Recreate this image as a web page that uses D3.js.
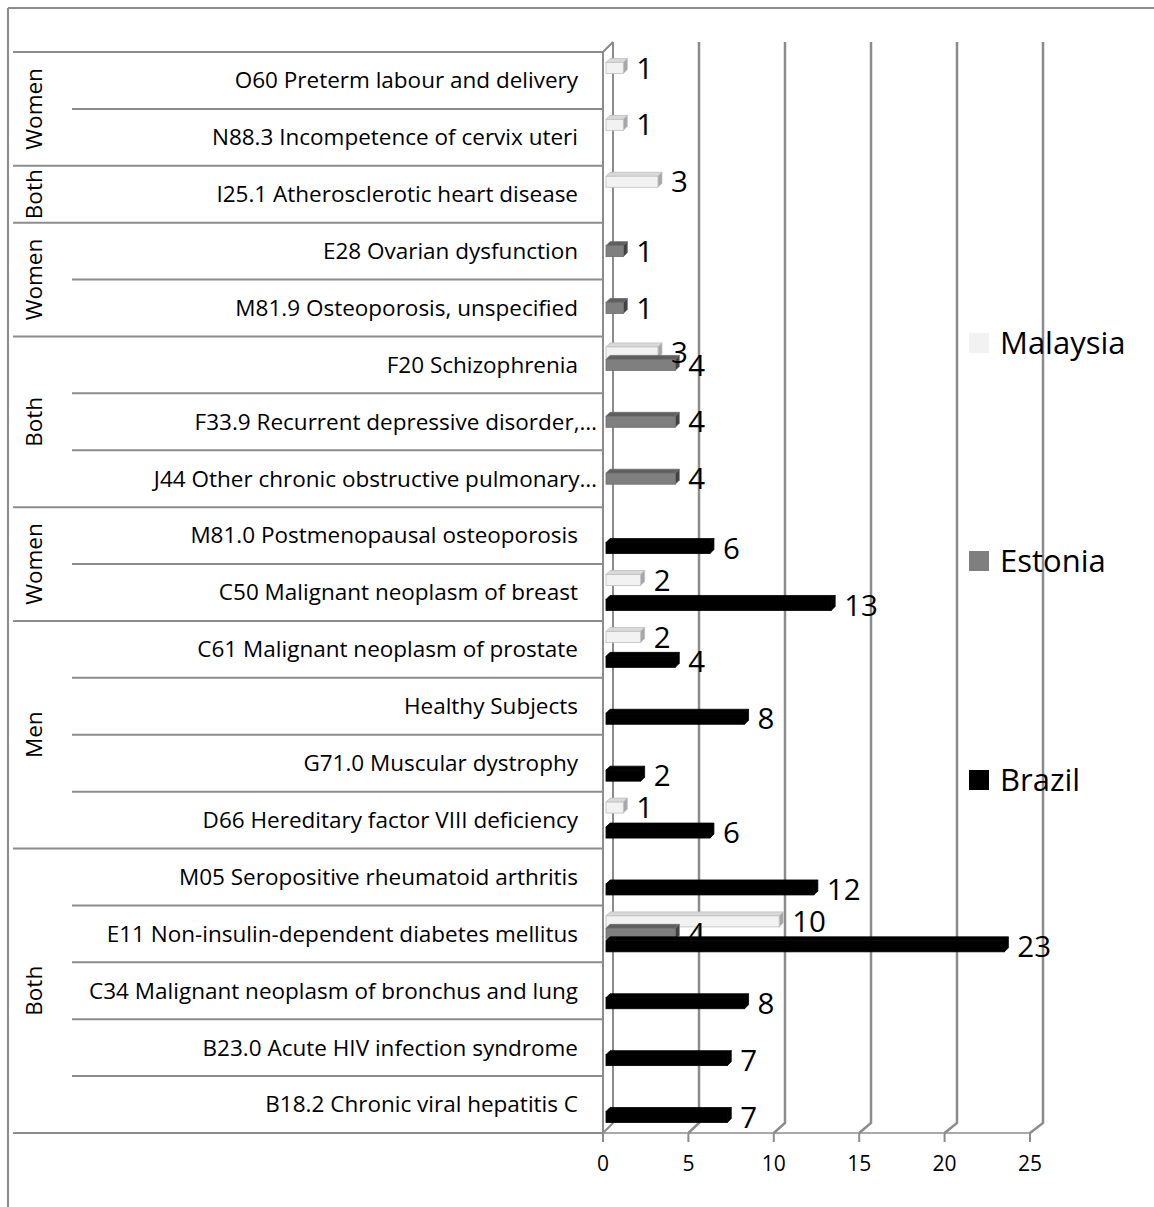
<!DOCTYPE html>
<html>
<head>
<meta charset="utf-8">
<script src="https://cdn.jsdelivr.net/npm/d3@7/dist/d3.min.js"></script>
<style>
  body { margin: 0; background: #fff; }
  svg { display: block; font-family: "Open Sans", sans-serif; }
</style>
</head>
<body>
<div id="chart"></div>
<script>
// categories, top to bottom
var categories = [
    'O60 Preterm labour and delivery',
    'N88.3 Incompetence of cervix uteri',
    'I25.1 Atherosclerotic heart disease',
    'E28 Ovarian dysfunction',
    'M81.9 Osteoporosis, unspecified',
    'F20 Schizophrenia',
    'F33.9 Recurrent depressive disorder,…',
    'J44 Other chronic obstructive pulmonary…',
    'M81.0 Postmenopausal osteoporosis',
    'C50 Malignant neoplasm of breast',
    'C61 Malignant neoplasm of prostate',
    'Healthy Subjects',
    'G71.0 Muscular dystrophy',
    'D66 Hereditary factor VIII deficiency',
    'M05 Seropositive rheumatoid arthritis',
    'E11 Non-insulin-dependent diabetes mellitus',
    'C34 Malignant neoplasm of bronchus and lung',
    'B23.0 Acute HIV infection syndrome',
    'B18.2 Chronic viral hepatitis C'
];

var groupNames = ['Women', 'Both', 'Women', 'Both', 'Women', 'Men', 'Both'];
var groupSizes = [2, 1, 2, 3, 2, 4, 5];

var seriesNames = ['Malaysia', 'Estonia', 'Brazil'];
var malaysia = [1, 1, 3, null, null, 3, null, null, null, 2, 2, null, null, 1, null, 10, null, null, null];
var estonia  = [null, null, null, 1, 1, 4, 4, 4, null, null, null, null, null, null, null, 4, null, null, null];
var brazil   = [null, null, null, null, null, null, null, null, 6, 13, 4, 8, 2, 6, 12, 23, 8, 7, 7];

var xTicks = [0, 5, 10, 15, 20, 25];

var seriesValues = [malaysia, estonia, brazil];
var seriesFill = ['#f2f2f2', '#7f7f7f', '#000000'];
var seriesTop = ['#d9d9d9', '#5f5f5f', '#000000'];
var seriesSide = ['#a6a6a6', '#404040', '#000000'];
var seriesStroke = ['#bfbfbf', '#6f6f6f', '#000000'];

var width = 1154;
var height = 1207;
var gray = '#8c8c8c';
var depthX = 10, depthY = -10;
var barDepth = 4;
var faceH = 11;

var svg = d3.select('#chart')
    .append('svg')
    .attr('width', width)
    .attr('height', height);

// chart border (top and left visible)
svg.append('line').attr('x1', 8).attr('y1', 8).attr('x2', width).attr('y2', 8)
    .attr('stroke', gray).attr('stroke-width', 2);
svg.append('line').attr('x1', 8).attr('y1', 8).attr('x2', 8).attr('y2', height)
    .attr('stroke', gray).attr('stroke-width', 2);

var y = d3.scaleBand()
    .domain(categories)
    .range([52, 1133]);

var ySeries = d3.scaleBand()
    .domain(seriesNames)
    .range([0, y.bandwidth()])
    .paddingOuter(0.78);

var xFront = d3.scaleLinear().domain([0, 25]).range([603, 1030]);
var xBack = d3.scaleLinear().domain([0, 25]).range([613, 1043]);
var x = d3.scaleLinear().domain([0, 25]).range([606, 1039]);

var plotTop = y.range()[0];
var plotBottom = y.range()[1];

// back gridlines + floor diagonals
var grid = svg.append('g').attr('stroke', gray).attr('fill', 'none');
grid.selectAll('.gl')
    .data(xTicks)
    .enter()
    .append('path')
    .attr('stroke-width', function (d) { return d === 0 ? 2 : 2.5; })
    .attr('d', function (d) {
        return 'M' + xBack(d) + ',' + (plotTop + depthY) +
            'L' + xBack(d) + ',' + (plotBottom + depthY) +
            'L' + xFront(d) + ',' + plotBottom;
    });

// left wall front edge + top diagonal
grid.append('path')
    .attr('stroke-width', 2)
    .attr('d', 'M' + xFront(0) + ',' + plotBottom + 'L' + xFront(0) + ',' + plotTop +
        'L' + xBack(0) + ',' + (plotTop + depthY));

// floor front edge
grid.append('line')
    .attr('x1', xFront(0)).attr('x2', xFront(25))
    .attr('y1', plotBottom).attr('y2', plotBottom)
    .attr('stroke-width', 1.5);

// tick marks and tick labels
svg.append('g').selectAll('line')
    .data(xTicks)
    .enter()
    .append('line')
    .attr('x1', function (d) { return xFront(d); })
    .attr('x2', function (d) { return xFront(d); })
    .attr('y1', plotBottom)
    .attr('y2', plotBottom + 9)
    .attr('stroke', gray)
    .attr('stroke-width', 2);

svg.append('g').selectAll('text')
    .data(xTicks)
    .enter()
    .append('text')
    .attr('x', function (d) { return xFront(d); })
    .attr('y', plotBottom + 38)
    .attr('text-anchor', 'middle')
    .style('font-size', '21px')
    .style('fill', '#000')
    .text(function (d) { return d; });

// category separators
var catLines = svg.append('g').attr('stroke', gray).attr('stroke-width', 2);
var groupStarts = [];
var acc = 0;
groupSizes.forEach(function (n) { groupStarts.push(acc); acc += n; });
groupStarts.push(categories.length);

for (var i = 0; i <= categories.length; i++) {
    var isGroup = groupStarts.indexOf(i) >= 0;
    var yy = i < categories.length ? y(categories[i]) : plotBottom;
    catLines.append('line')
        .attr('x1', isGroup ? 13 : 72)
        .attr('x2', xFront(0))
        .attr('y1', yy)
        .attr('y2', yy);
}

// category labels
svg.append('g').selectAll('text')
    .data(categories)
    .enter()
    .append('text')
    .attr('x', function (d) { return d.indexOf('…') >= 0 ? 597 : 578; })
    .attr('y', function (d) { return y(d) + y.bandwidth() / 2; })
    .attr('dy', '0.35em')
    .attr('text-anchor', 'end')
    .style('font-size', '22.5px')
    .style('fill', '#000')
    .text(function (d) { return d; });

// group labels
svg.append('g').selectAll('text')
    .data(groupNames)
    .enter()
    .append('text')
    .attr('transform', function (d, i) {
        var y0 = y(categories[groupStarts[i]]);
        var y1 = groupStarts[i + 1] < categories.length ? y(categories[groupStarts[i + 1]]) : plotBottom;
        return 'translate(' + 34 + ',' + ((y0 + y1) / 2) + ') rotate(-90)';
    })
    .attr('dy', '0.35em')
    .attr('text-anchor', 'middle')
    .style('font-size', '22.5px')
    .style('fill', '#000')
    .text(function (d) { return d; });

// 3D bars
function barShapes(g, si) {
    var vals = seriesValues[si];
    var data = categories.map(function (c, i) { return {cat: c, value: vals[i]}; })
        .filter(function (d) { return d.value != null; });

    var bars = g.selectAll('.bar-' + si)
        .data(data)
        .enter()
        .append('g')
        .attr('class', 'bar-' + si);

    function yc(d) { return y(d.cat) + ySeries(seriesNames[si]) + ySeries.bandwidth() / 2; }

    bars.append('path')
        .attr('fill', seriesTop[si])
        .attr('stroke', seriesStroke[si])
        .attr('stroke-width', 0.8)
        .attr('d', function (d) {
            var x0 = x(0), x1 = x(d.value), t = yc(d) - faceH / 2;
            return 'M' + x0 + ',' + t + 'L' + (x0 + barDepth) + ',' + (t - barDepth) +
                'L' + (x1 + barDepth) + ',' + (t - barDepth) + 'L' + x1 + ',' + t + 'Z';
        });

    bars.append('path')
        .attr('fill', seriesSide[si])
        .attr('stroke', seriesStroke[si])
        .attr('stroke-width', 0.8)
        .attr('d', function (d) {
            var x1 = x(d.value), t = yc(d) - faceH / 2, b = yc(d) + faceH / 2;
            return 'M' + x1 + ',' + t + 'L' + (x1 + barDepth) + ',' + (t - barDepth) +
                'L' + (x1 + barDepth) + ',' + (b - barDepth) + 'L' + x1 + ',' + b + 'Z';
        });

    bars.append('rect')
        .attr('x', x(0))
        .attr('y', function (d) { return yc(d) - faceH / 2; })
        .attr('width', function (d) { return x(d.value) - x(0); })
        .attr('height', faceH)
        .attr('fill', seriesFill[si])
        .attr('stroke', seriesStroke[si])
        .attr('stroke-width', 0.8);

    return data.map(function (d) { return {x: x(d.value) + barDepth, y: yc(d), value: d.value}; });
}

var barG = svg.append('g');
var labels = [];
seriesNames.forEach(function (s, si) {
    labels = labels.concat(barShapes(barG, si));
});

// value labels
svg.append('g').selectAll('text')
    .data(labels)
    .enter()
    .append('text')
    .attr('x', function (d) { return d.x + 9; })
    .attr('y', function (d) { return d.y; })
    .attr('dy', '0.36em')
    .style('font-size', '29.5px')
    .style('fill', '#000')
    .text(function (d) { return d.value; });

// legend
var legendY = [343, 561, 780];
var legend = svg.selectAll('.legend')
    .data(seriesNames)
    .enter()
    .append('g')
    .attr('class', 'legend')
    .attr('transform', function (d, i) { return 'translate(969,' + legendY[i] + ')'; });

legend.append('rect')
    .attr('x', 0)
    .attr('y', -10)
    .attr('width', 20)
    .attr('height', 20)
    .style('fill', function (d, i) { return seriesFill[i]; });

legend.append('text')
    .attr('x', 31)
    .attr('y', 0)
    .attr('dy', '0.35em')
    .style('font-size', '31px')
    .style('fill', '#000')
    .text(function (d) { return d; });
</script>
</body>
</html>
